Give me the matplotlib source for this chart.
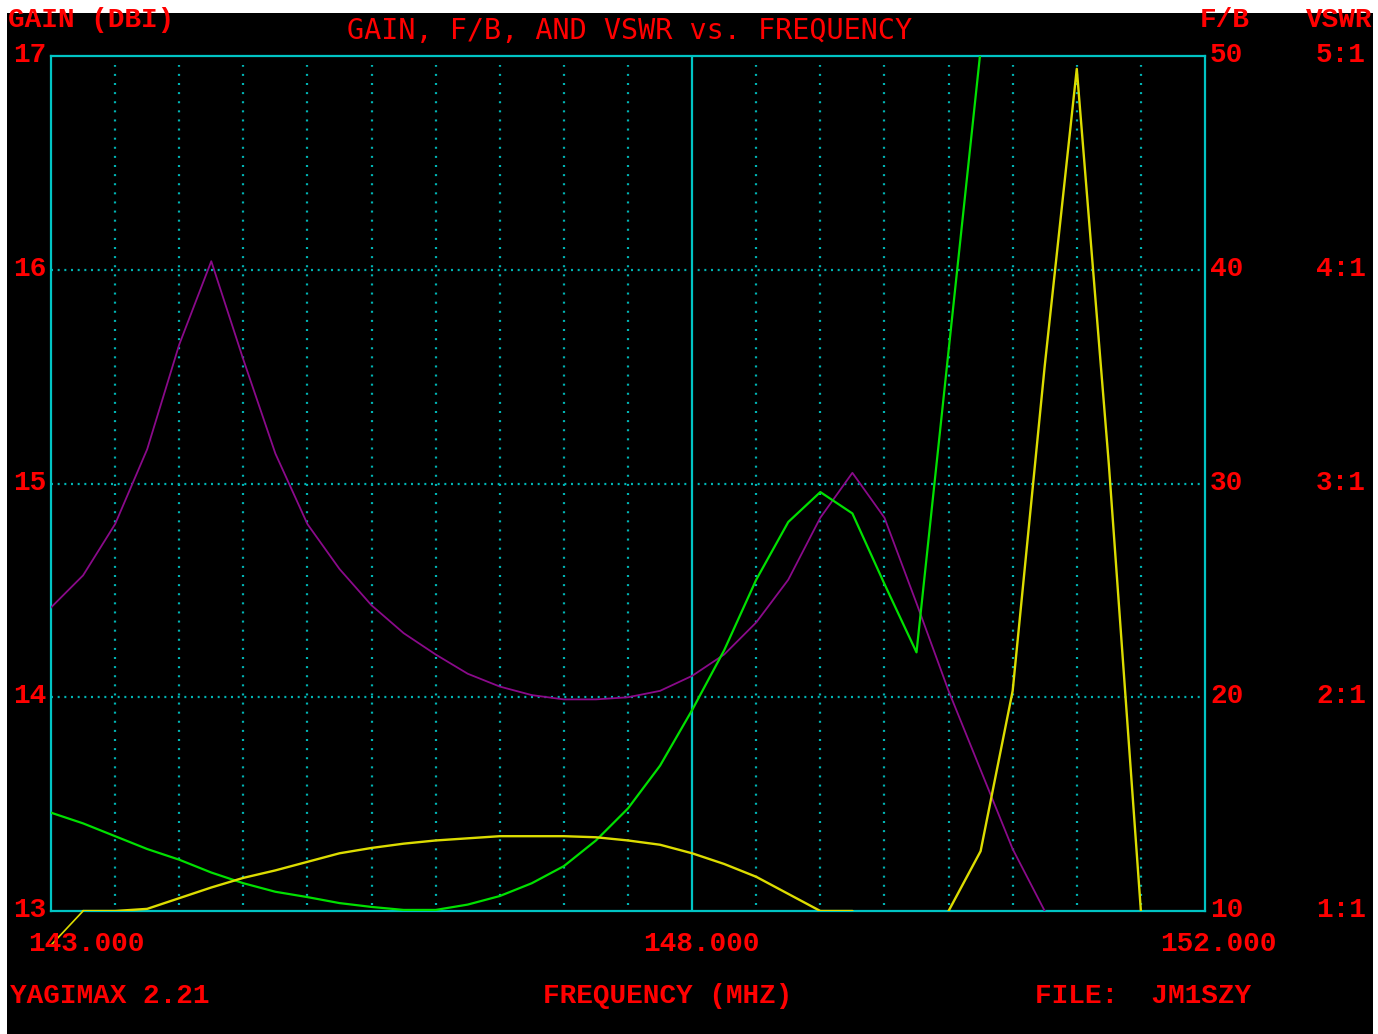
import matplotlib
matplotlib.use("Agg")
import matplotlib.pyplot as plt
import matplotlib.transforms as mtransforms
from matplotlib.patches import Rectangle
import numpy as np

# ---------------- data ----------------
freq = [143.00, 143.25, 143.50, 143.75, 144.00, 144.25, 144.50, 144.75,
        145.00, 145.25, 145.50, 145.75, 146.00, 146.25, 146.50, 146.75,
        147.00, 147.25, 147.50, 147.75, 148.00, 148.25, 148.50, 148.75,
        149.00, 149.25, 149.50, 149.75, 150.00, 150.25, 150.50, 150.75,
        151.00, 151.25, 151.50]

# purple trace (left scale units)
purple = [14.42, 14.57, 14.81, 15.16, 15.65, 16.04, 15.58, 15.14,
          14.81, 14.60, 14.43, 14.30, 14.20, 14.11, 14.05, 14.01,
          13.99, 13.99, 14.00, 14.03, 14.10, 14.20, 14.35, 14.55,
          14.84, 15.05, 14.84, 14.44, 14.03, 13.66, 13.29, 13.00]

# green trace (left scale units)
green = [13.46, 13.41, 13.35, 13.29, 13.24, 13.18, 13.13, 13.09,
         13.065, 13.037, 13.019, 13.005, 13.005, 13.03, 13.07, 13.13,
         13.21, 13.33, 13.48, 13.68, 13.94, 14.22, 14.55, 14.82,
         14.96, 14.86, 14.53, 14.21, 15.62, 17.03]

# yellow trace (left scale units)
yellow = [12.84, 13.00, 13.00, 13.01, 13.06, 13.11, 13.155, 13.19,
          13.23, 13.27, 13.295, 13.315, 13.33, 13.34, 13.35, 13.35,
          13.35, 13.345, 13.33, 13.31, 13.27, 13.22, 13.16, 13.08,
          13.00, 13.00, 12.80, 12.80, 13.00, 13.28, 14.03, 15.55,
          16.94, 15.09, 13.00]

gain_ticks = [13, 14, 15, 16, 17]
gain_labels = ["13", "14", "15", "16", "17"]
fb_labels = ["10", "20", "30", "40", "50"]
vswr_labels = ["1:1", "2:1", "3:1", "4:1", "5:1"]
x_ticks = [143, 148, 152]
x_labels = ["143.000", "148.000", "152.000"]
minor_x = [143.5, 144.0, 144.5, 145.0, 145.5, 146.0, 146.5, 147.0, 147.5,
           148.5, 149.0, 149.5, 150.0, 150.5, 151.0, 151.5]

# ---------------- style ----------------
W, H = 1378, 1034
RED = "#ff0000"
CYAN = "#00c4c4"
DOT = "#00b4b4"
PURPLE = "#8a0a8a"
GREEN = "#00e000"
YELLOW = "#dcdc00"
LBL = dict(family=["Liberation Mono", "DejaVu Sans Mono"], weight="bold",
           size=20, color=RED)

fig = plt.figure(figsize=(W / 100, H / 100), dpi=100, facecolor="white")
fig.patches.append(Rectangle((7 / W, 0), (1373 - 7) / W, (H - 13) / H,
                             transform=fig.transFigure, facecolor="black",
                             edgecolor="none", zorder=-10))

def fx(px):
    return px / W

def fy(py):
    return 1 - py / H

ax = fig.add_axes([fx(51), fy(911), fx(1205) - fx(51), fy(56) - fy(911)])
ax.set_facecolor("black")
ax.set_xlim(143, 152)
ax.set_ylim(13, 17)
ax.set_xticks([])
ax.set_yticks([])
for s in ax.spines.values():
    s.set_color(CYAN)
    s.set_linewidth(1.6)

# grid
for g in gain_ticks[1:-1]:
    ax.axhline(g, color=DOT, lw=1.6, linestyle=(0, (0.9, 2.1)), zorder=1)
for m in minor_x:
    ax.plot([m, m], [13.03, 16.96], color=DOT, lw=1.6,
            linestyle=(0, (0.9, 3.2)), zorder=1)
ax.axvline(148, color=CYAN, lw=1.6, zorder=1)

# curves
ax.plot(freq[:len(purple)], purple, color=PURPLE, lw=1.3, zorder=3)
ax.plot(freq[:len(green)], green, color=GREEN, lw=1.6, zorder=3)
ax.plot(freq[:len(yellow)], yellow, color=YELLOW, lw=1.7, zorder=4)
ax.plot(freq[:2], yellow[:2], color=YELLOW, lw=1.2, zorder=4, clip_on=False)

# left tick labels (gain)
tr_left = mtransforms.blended_transform_factory(fig.transFigure, ax.transData)
off = mtransforms.ScaledTranslation(0, -6 / 100, fig.dpi_scale_trans)
for v, lab in zip(gain_ticks, gain_labels):
    fig.text(fx(46), v, lab, transform=tr_left + off, ha="right",
             va="baseline", **LBL)
for v, lab in zip(gain_ticks, fb_labels):
    fig.text(fx(1210), v, lab, transform=tr_left + off, ha="left",
             va="baseline", **LBL)
for v, lab in zip(gain_ticks, vswr_labels):
    fig.text(fx(1316), v, lab, transform=tr_left + off, ha="left",
             va="baseline", **LBL)

# x tick labels
tr_bot = mtransforms.blended_transform_factory(ax.transData, fig.transFigure)
x_offsets = [-23, -49, -45]
for v, lab, o in zip(x_ticks, x_labels, x_offsets):
    t = tr_bot + mtransforms.ScaledTranslation(o / 100, 0, fig.dpi_scale_trans)
    fig.text(v, fy(951), lab, transform=t, ha="left", va="baseline", **LBL)

# headers
fig.text(fx(8), fy(27), "GAIN (DBI)", ha="left", va="baseline", **LBL)
fig.text(fx(1200), fy(27), "F/B", ha="left", va="baseline", **LBL)
fig.text(fx(1306), fy(27), "VSWR", ha="left", va="baseline", **LBL)
fig.text(fx(630), fy(39), "GAIN, F/B, AND VSWR vs. FREQUENCY", ha="center",
         va="baseline", family=["DejaVu Sans Mono"], size=20.5, color=RED)

# footer
fig.text(fx(10), fy(1003), "YAGIMAX 2.21", ha="left", va="baseline", **LBL)
fig.text(fx(543), fy(1003), "FREQUENCY (MHZ)", ha="left", va="baseline", **LBL)
fig.text(fx(1035), fy(1003), "FILE:  JM1SZY", ha="left", va="baseline", **LBL)

fig.savefig("out.png", dpi=100, facecolor="white")
